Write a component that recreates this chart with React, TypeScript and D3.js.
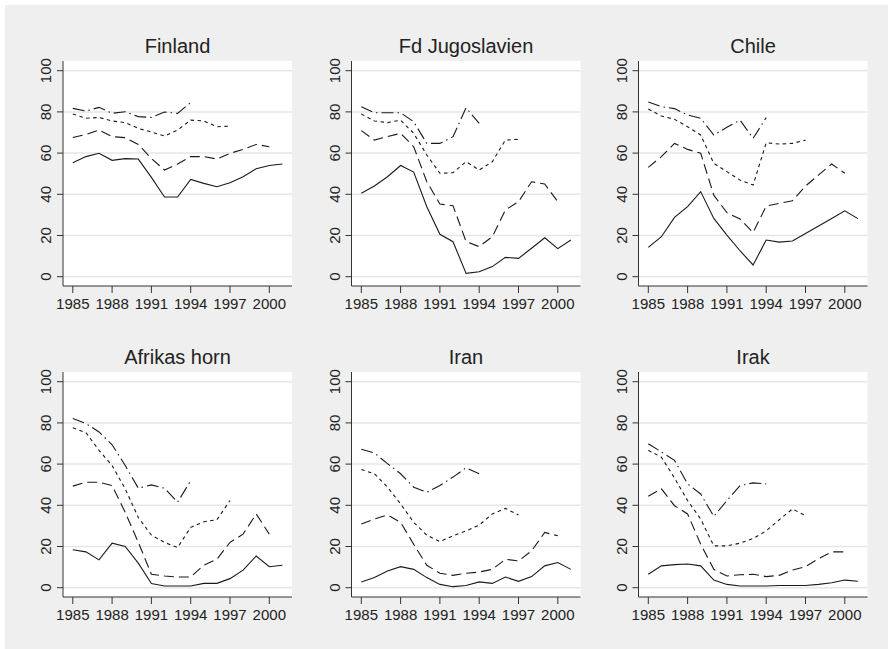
import React from "react";
import { scaleLinear, line } from "d3";

const W = 888;
const H = 649;
const BG = "#efefef";
const GRID = "#e6e6e6";
const FONT = "'Liberation Sans', Arial, sans-serif";

const years = [1985, 1986, 1987, 1988, 1989, 1990, 1991, 1992, 1993, 1994, 1995, 1996, 1997, 1998, 1999, 2000, 2001];
const xTicks = [1985, 1988, 1991, 1994, 1997, 2000];
const yTicks = [0, 20, 40, 60, 80, 100];

// series per country: solid (to 2001), long dash (to 2000), short dash (to 1997), dash-dot (to 1994)
const finlandSolid = [55.3, 58.3, 59.9, 56.5, 57.3, 57.1, 48.2, 38.7, 38.7, 47.2, 45.3, 43.7, 45.6, 48.5, 52.4, 54.0, 54.7];
const finlandDash = [67.6, 69.0, 71.2, 68.0, 67.5, 64.2, 57.4, 51.8, 54.7, 58.3, 58.3, 57.1, 59.9, 61.8, 64.2, 63.1];
const finlandShort = [79.0, 76.9, 77.3, 75.6, 74.8, 72.0, 70.2, 68.3, 71.2, 76.0, 75.6, 72.8, 73.1];
const finlandDot = [81.7, 80.4, 82.2, 79.3, 80.1, 77.7, 77.3, 79.9, 79.3, 84.6];

const jugoSolid = [40.5, 44.0, 48.5, 54.0, 50.8, 34.0, 20.6, 17.0, 1.6, 2.4, 4.9, 9.4, 8.9, 13.8, 18.9, 13.6, 17.8];
const jugoDash = [70.9, 66.3, 68.0, 69.6, 63.1, 46.1, 35.3, 34.5, 17.0, 14.6, 19.4, 32.4, 36.4, 46.1, 45.0, 36.4];
const jugoShort = [79.0, 75.6, 74.8, 76.0, 69.6, 59.1, 50.2, 50.5, 55.8, 51.8, 55.8, 66.3, 66.7];
const jugoDot = [82.5, 79.6, 79.6, 79.6, 75.2, 64.7, 64.7, 68.0, 82.0, 74.4];

const chileSolid = [14.2, 19.4, 28.8, 34.0, 41.3, 28.3, 20.2, 12.6, 5.7, 17.8, 16.8, 17.3, 21.0, 24.6, 28.3, 32.0, 28.2];
const chileDash = [53.1, 58.3, 64.7, 61.8, 59.9, 39.6, 31.1, 28.0, 21.4, 34.3, 35.6, 36.9, 44.0, 49.4, 54.7, 50.2];
const chileShort = [81.4, 78.0, 76.4, 72.8, 68.8, 55.0, 51.0, 46.9, 44.5, 65.0, 64.4, 64.7, 66.3];
const chileDot = [84.8, 82.5, 81.6, 78.5, 76.9, 68.8, 72.5, 76.0, 67.2, 77.2];

const hornSolid = [18.4, 17.4, 13.5, 21.6, 20.0, 11.9, 2.0, 0.8, 0.8, 0.8, 2.1, 2.1, 4.4, 8.5, 15.4, 10.2, 10.9];
const hornDash = [49.3, 51.2, 51.2, 49.6, 36.6, 22.0, 6.5, 5.7, 5.2, 5.2, 10.9, 13.8, 22.0, 26.0, 35.8, 26.0];
const hornShort = [77.6, 75.3, 66.7, 59.3, 48.0, 34.1, 25.5, 22.0, 19.5, 29.3, 32.0, 33.0, 42.3];
const hornDot = [82.1, 79.7, 75.6, 69.4, 59.3, 48.3, 49.9, 48.3, 41.5, 52.0];

const iranSolid = [2.8, 4.9, 8.1, 10.2, 8.9, 4.9, 1.6, 0.5, 1.1, 2.8, 2.1, 5.2, 3.1, 5.4, 10.6, 12.2, 8.9];
const iranDash = [30.9, 33.3, 35.3, 31.7, 21.1, 10.9, 7.0, 6.0, 7.0, 7.6, 8.9, 13.8, 13.0, 17.9, 26.8, 25.2];
const iranShort = [57.4, 55.3, 48.8, 40.7, 31.7, 25.5, 22.4, 25.2, 27.6, 30.4, 35.8, 38.5, 35.3];
const iranDot = [67.2, 65.4, 60.2, 55.3, 48.8, 46.3, 49.6, 53.7, 58.2, 55.3];

const irakSolid = [6.5, 10.6, 11.2, 11.5, 10.6, 3.7, 1.6, 0.8, 0.8, 0.8, 1.1, 1.1, 1.1, 1.6, 2.4, 3.7, 3.1];
const irakDash = [44.4, 48.0, 39.8, 35.8, 21.1, 8.9, 5.7, 6.3, 6.5, 5.4, 6.0, 8.6, 10.2, 14.1, 17.4, 17.4];
const irakShort = [66.7, 63.4, 53.2, 42.3, 33.3, 20.3, 20.3, 21.6, 23.9, 27.6, 33.0, 38.2, 35.0];
const irakDot = [69.9, 65.9, 61.8, 50.4, 45.5, 34.6, 42.3, 49.6, 50.9, 50.4];

const panels = [
  { title: "Finland", series: [finlandSolid, finlandDash, finlandShort, finlandDot] },
  { title: "Fd Jugoslavien", series: [jugoSolid, jugoDash, jugoShort, jugoDot] },
  { title: "Chile", series: [chileSolid, chileDash, chileShort, chileDot] },
  { title: "Afrikas horn", series: [hornSolid, hornDash, hornShort, hornDot] },
  { title: "Iran", series: [iranSolid, iranDash, iranShort, iranDot] },
  { title: "Irak", series: [irakSolid, irakDash, irakShort, irakDot] },
];

const DASHES = [null, "10,5", "3.5,3.5", "12,4,1.5,4"];

const COL_LEFT = [63, 351.5, 638.5];
const ROW_TOP = [61, 372];
const PLOT_W = 229;
const PLOT_H = 225;

const Panel = ({ title, series, left, top }) => {
  const x = scaleLinear().domain([1985, 2000]).range([left + 9.8, left + 206.3]);
  const y = scaleLinear().domain([0, 100]).range([top + 215.7, top + 9.7]);
  const bottom = top + PLOT_H;
  const right = left + PLOT_W;
  const path = line<number>()
    .x((d, i) => x(years[i]))
    .y((d) => y(d));

  return (
    <g>
      <rect x={left} y={top} width={PLOT_W} height={PLOT_H} fill="#ffffff" />
      {yTicks.map((t) => (
        <line key={"g" + t} x1={left} x2={right} y1={y(t)} y2={y(t)} stroke={GRID} strokeWidth={1.5} />
      ))}
      {series.map((s, i) => (
        <path
          key={i}
          d={path(s) || ""}
          fill="none"
          stroke="#1a1a1a"
          strokeWidth={1.1}
          strokeDasharray={DASHES[i] || undefined}
        />
      ))}
      <line x1={left} x2={left} y1={top} y2={bottom} stroke="#333" strokeWidth={1} />
      <line x1={left} x2={right} y1={bottom} y2={bottom} stroke="#333" strokeWidth={1} />
      {yTicks.map((t) => (
        <g key={"y" + t}>
          <line x1={left - 6} x2={left} y1={y(t)} y2={y(t)} stroke="#333" strokeWidth={1} />
          <text
            transform={`translate(${left - 12},${y(t)}) rotate(-90)`}
            textAnchor="middle"
            fontFamily={FONT}
            fontSize={15}
            fill="#222"
          >
            {t}
          </text>
        </g>
      ))}
      {xTicks.map((t) => (
        <g key={"x" + t}>
          <line x1={x(t)} x2={x(t)} y1={bottom} y2={bottom + 7} stroke="#333" strokeWidth={1} />
          <text x={x(t)} y={bottom + 23} textAnchor="middle" fontFamily={FONT} fontSize={15} fill="#222">
            {t}
          </text>
        </g>
      ))}
      <text x={left + PLOT_W / 2} y={top - 8} textAnchor="middle" fontFamily={FONT} fontSize={20} fill="#222">
        {title}
      </text>
    </g>
  );
};

export default function App() {
  return (
    <svg width={W} height={H} style={{ position: "absolute", left: 0, top: 0 }}>
      <rect x={0} y={0} width={W} height={H} fill="#ffffff" />
      <rect x={5} y={5} width={W - 5} height={H - 5} fill={BG} />
      {panels.map((p, i) => (
        <Panel
          key={p.title}
          title={p.title}
          series={p.series}
          left={COL_LEFT[i % 3]}
          top={ROW_TOP[Math.floor(i / 3)]}
        />
      ))}
    </svg>
  );
}
